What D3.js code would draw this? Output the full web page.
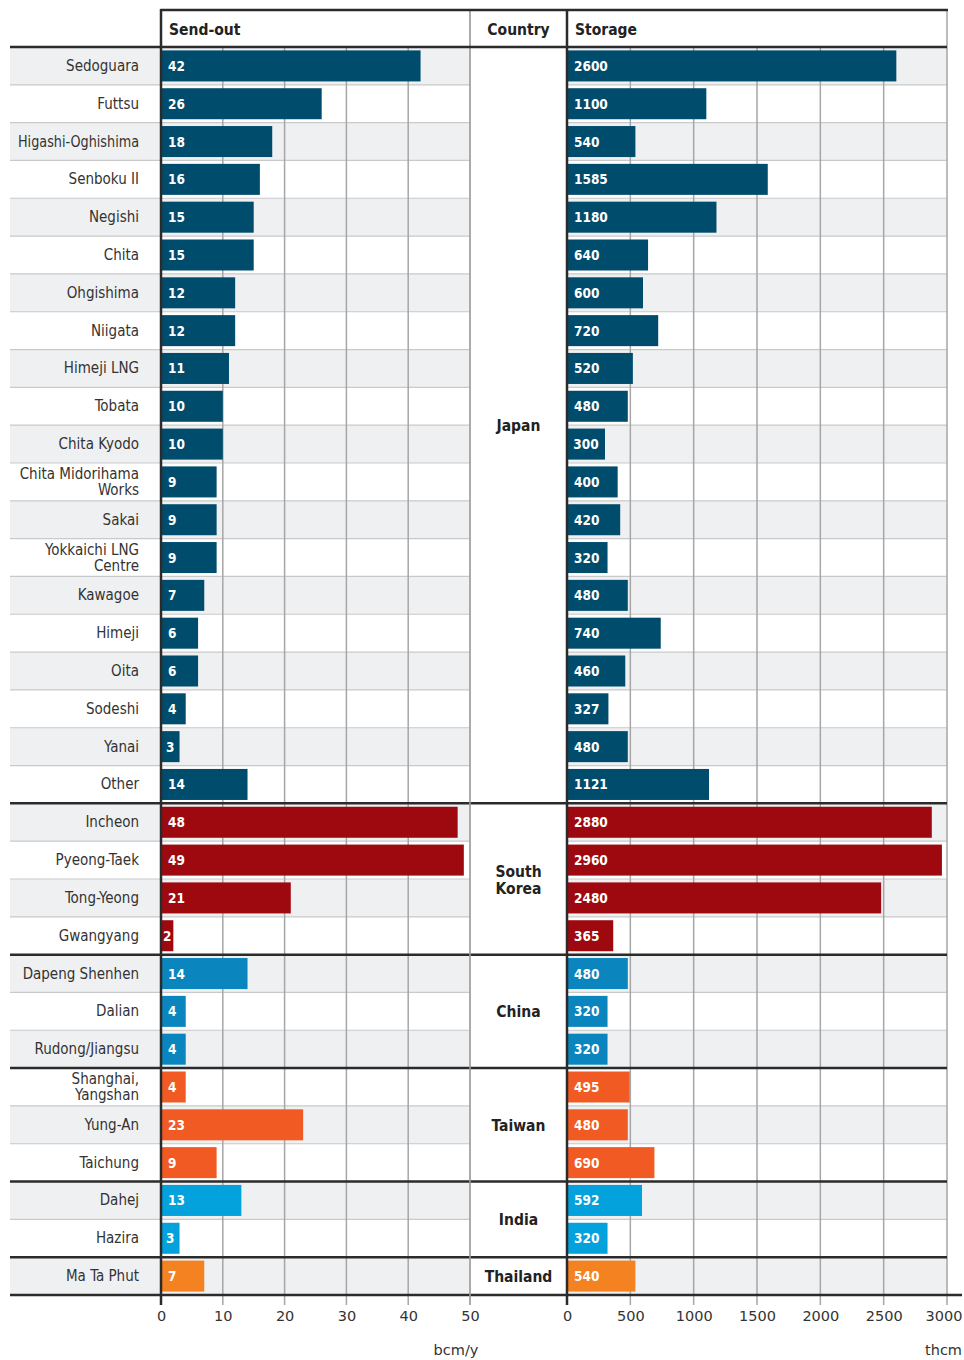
<!DOCTYPE html>
<html>
<head>
<meta charset="utf-8">
<script src="https://cdn.jsdelivr.net/npm/d3@7"></script>
<style>
  html, body { margin: 0; padding: 0; background: #fff; }
  svg { display: block; font-family: "DejaVu Sans Condensed", "DejaVu Sans", sans-serif; font-stretch: condensed; }
</style>
</head>
<body>
<svg id="chart" width="964" height="1360"></svg>
<script>
// LNG import terminals: send-out capacity and storage, grouped by country
const terminals = [
  "Sedoguara", "Futtsu", "Higashi-Oghishima", "Senboku II", "Negishi", "Chita",
  "Ohgishima", "Niigata", "Himeji LNG", "Tobata", "Chita Kyodo",
  "Chita Midorihama\nWorks", "Sakai", "Yokkaichi LNG\nCentre", "Kawagoe", "Himeji",
  "Oita", "Sodeshi", "Yanai", "Other",
  "Incheon", "Pyeong-Taek", "Tong-Yeong", "Gwangyang",
  "Dapeng Shenhen", "Dalian", "Rudong/Jiangsu",
  "Shanghai,\nYangshan", "Yung-An", "Taichung",
  "Dahej", "Hazira",
  "Ma Ta Phut"
];
const terminalCountry = [
  "Japan", "Japan", "Japan", "Japan", "Japan", "Japan", "Japan", "Japan", "Japan", "Japan",
  "Japan", "Japan", "Japan", "Japan", "Japan", "Japan", "Japan", "Japan", "Japan", "Japan",
  "South Korea", "South Korea", "South Korea", "South Korea",
  "China", "China", "China",
  "Taiwan", "Taiwan", "Taiwan",
  "India", "India",
  "Thailand"
];
// bcm/y
const sendOut = [
  42, 26, 18, 16, 15, 15, 12, 12, 11, 10, 10, 9, 9, 9, 7, 6, 6, 4, 3, 14,
  48, 49, 21, 2,
  14, 4, 4,
  4, 23, 9,
  13, 3,
  7
];
// thousand cubic metres
const storage = [
  2600, 1100, 540, 1585, 1180, 640, 600, 720, 520, 480, 300, 400, 420, 320, 480, 740,
  460, 327, 480, 1121,
  2880, 2960, 2480, 365,
  480, 320, 320,
  495, 480, 690,
  592, 320,
  540
];
const countries = ["Japan", "South Korea", "China", "Taiwan", "India", "Thailand"];
const countryColors = ["#004c6c", "#9e0910", "#0a85bd", "#f15a22", "#03a2dc", "#f58220"];
const sendOutTicks = [0, 10, 20, 30, 40, 50];
const storageTicks = [0, 500, 1000, 1500, 2000, 2500, 3000];

const svg = d3.select("#chart");
const ink = "#2b2b2b", grid = "#a6a6a6", sep = "#c9c9c9", stripe = "#eff0f2";

const L = { left: 10, labelRight: 139, sendX0: 161, sendX1: 470, countryX1: 567, storeX1: 947,
            top: 10, headBottom: 47, bodyBottom: 1295, tickEnd: 1305 };

const color = d3.scaleOrdinal().domain(countries).range(countryColors);
const y = d3.scaleBand().domain(d3.range(terminals.length))
  .range([L.headBottom, L.bodyBottom]).paddingInner(0).paddingOuter(0);
const sx = d3.scaleLinear().domain([0, 50]).range([L.sendX0, L.sendX1]);
const stx = d3.scaleLinear().domain([0, 3000]).range([L.countryX1, L.storeX1]);
const barPad = 3.4;
const rows = d3.range(terminals.length);

// striped row backgrounds (country column stays white)
const bg = svg.append("g");
rows.filter(i => i % 2 === 0).forEach(i => {
  bg.append("rect").attr("x", L.left).attr("y", y(i)).attr("width", L.sendX1 - L.left)
    .attr("height", y.bandwidth()).attr("fill", stripe);
  bg.append("rect").attr("x", L.countryX1).attr("y", y(i)).attr("width", L.storeX1 - L.countryX1)
    .attr("height", y.bandwidth()).attr("fill", stripe);
});

// row separators
const seps = svg.append("g").attr("stroke", sep).attr("stroke-width", 1.2);
rows.slice(1).forEach(i => {
  if (terminalCountry[i] !== terminalCountry[i - 1]) return;
  seps.append("line").attr("x1", L.left).attr("x2", L.sendX1).attr("y1", y(i)).attr("y2", y(i));
  seps.append("line").attr("x1", L.countryX1).attr("x2", L.storeX1).attr("y1", y(i)).attr("y2", y(i));
});

// vertical gridlines
const gl = svg.append("g").attr("stroke", grid).attr("stroke-width", 1.5);
sendOutTicks.slice(1).forEach(t => {
  gl.append("line").attr("x1", sx(t)).attr("x2", sx(t))
    .attr("y1", t === 50 ? L.top : L.headBottom).attr("y2", L.tickEnd);
});
storageTicks.slice(1).forEach(t => {
  gl.append("line").attr("x1", stx(t)).attr("x2", stx(t))
    .attr("y1", t === 3000 ? L.top : L.headBottom).attr("y2", L.tickEnd);
});

// bars with value labels inside
function drawBars(values, xs) {
  const g = svg.append("g");
  g.selectAll("rect").data(rows).join("rect")
    .attr("x", xs(0) + 1)
    .attr("y", i => y(i) + barPad)
    .attr("width", i => xs(values[i]) - xs(0) - 1)
    .attr("height", y.bandwidth() - 2 * barPad)
    .attr("fill", i => color(terminalCountry[i]));
  g.selectAll("text").data(rows).join("text")
    .attr("y", i => y(i) + y.bandwidth() / 2 + 5)
    .attr("fill", "#fff").attr("font-weight", "bold").attr("font-size", 13.5)
    .text(i => values[i])
    .each(function (i) {
      const w = this.getComputedTextLength();
      const barW = xs(values[i]) - xs(0);
      const off = Math.max(1.5, Math.min(7, (barW - w) / 2));
      d3.select(this).attr("x", xs(0) + off);
    });
}
drawBars(sendOut, sx);
drawBars(storage, stx);

// terminal labels
const lab = svg.append("g").attr("text-anchor", "end").attr("fill", "#333").attr("font-size", 15);
rows.forEach(i => {
  const lines = terminals[i].split("\n");
  const cy = y(i) + y.bandwidth() / 2;
  lines.forEach((ln, k) => {
    const t = lab.append("text").attr("x", L.labelRight)
      .attr("y", cy + 5 + (k - (lines.length - 1) / 2) * 16).text(ln);
    const w = t.node().getComputedTextLength();
    if (w > 121) t.attr("textLength", 121).attr("lengthAdjust", "spacingAndGlyphs");
  });
});

// country group labels and group dividers
const groups = d3.groups(rows, i => terminalCountry[i]);
const cg = svg.append("g").attr("text-anchor", "middle").attr("font-weight", "bold")
  .attr("font-size", 15.5).attr("fill", "#222");
groups.forEach(([name, idx]) => {
  const y0 = y(idx[0]), y1 = y(idx[idx.length - 1]) + y.bandwidth();
  const words = name.split(" ");
  words.forEach((w, k) => {
    cg.append("text").attr("x", (L.sendX1 + L.countryX1) / 2)
      .attr("y", (y0 + y1) / 2 + 6 + (k - (words.length - 1) / 2) * 17).text(w);
  });
  svg.append("line").attr("x1", L.left).attr("x2", y1 === L.bodyBottom ? 962 : L.storeX1)
    .attr("y1", y1).attr("y2", y1).attr("stroke", ink).attr("stroke-width", 2.5);
});

// frame
const fr = svg.append("g");
fr.append("line").attr("x1", L.sendX1).attr("x2", L.sendX1).attr("y1", L.top).attr("y2", L.tickEnd)
  .attr("stroke", grid).attr("stroke-width", 1.5);
fr.append("line").attr("x1", L.sendX0 - 0.5).attr("x2", L.storeX1 + 1).attr("y1", L.top).attr("y2", L.top)
  .attr("stroke", ink).attr("stroke-width", 2.5);
fr.append("line").attr("x1", L.left).attr("x2", L.storeX1).attr("y1", L.headBottom).attr("y2", L.headBottom)
  .attr("stroke", ink).attr("stroke-width", 2.5);
[L.sendX0, L.countryX1].forEach(x => {
  fr.append("line").attr("x1", x).attr("x2", x).attr("y1", L.top - 1).attr("y2", L.tickEnd)
    .attr("stroke", ink).attr("stroke-width", 2.5);
});

// column headers
const hd = svg.append("g").attr("font-weight", "bold").attr("font-size", 15.5).attr("fill", "#222");
hd.append("text").attr("x", L.sendX0 + 8).attr("y", 35).text("Send-out");
hd.append("text").attr("x", (L.sendX1 + L.countryX1) / 2).attr("y", 35).attr("text-anchor", "middle").text("Country");
hd.append("text").attr("x", L.countryX1 + 8).attr("y", 35).text("Storage");

// axes
function styleAxis(g) {
  g.select(".domain").remove();
  g.selectAll(".tick line").remove();
  g.selectAll(".tick text").attr("font-size", 14.5).attr("fill", "#333")
    .attr("font-family", "DejaVu Sans, sans-serif").attr("font-stretch", "normal").attr("dy", "0.71em");
}
svg.append("g").attr("transform", `translate(0,${L.tickEnd + 6})`)
  .call(d3.axisBottom(sx).tickValues(sendOutTicks).tickFormat(d3.format("d")).tickSize(0).tickPadding(0))
  .call(styleAxis);
const storeAxis = svg.append("g").attr("transform", `translate(0,${L.tickEnd + 6})`)
  .call(d3.axisBottom(stx).tickValues(storageTicks).tickFormat(d3.format("d")).tickSize(0).tickPadding(0))
  .call(styleAxis);
// keep the last storage tick label inside the page
storeAxis.selectAll(".tick").filter(d => d === 3000).select("text")
  .attr("text-anchor", "end").attr("x", 962 - L.storeX1);

const units = svg.append("g").attr("font-size", 14.5).attr("fill", "#333")
  .attr("font-family", "DejaVu Sans, sans-serif").attr("font-stretch", "normal");
units.append("text").attr("x", 456).attr("y", 1355).attr("text-anchor", "middle").text("bcm/y");
units.append("text").attr("x", 962).attr("y", 1355).attr("text-anchor", "end").text("thcm");
</script>
</body>
</html>
